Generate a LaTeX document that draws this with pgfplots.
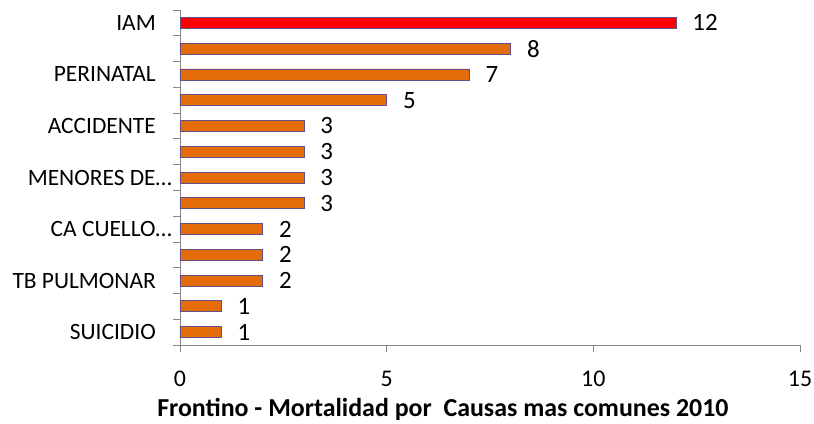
\documentclass[border=0pt]{standalone}
\usepackage{fontspec}
\setmainfont{Carlito}
\usepackage{pgfplots}
\pgfplotsset{compat=1.18}
\definecolor{barorange}{RGB}{228,108,10}
\definecolor{barred}{RGB}{255,0,0}
\definecolor{baredge}{RGB}{100,80,135}
\definecolor{axgray}{RGB}{134,134,134}
\newcommand{\gap}{\kern16bp\relax}
\begin{document}
\begin{tikzpicture}[x=1bp,y=1bp]
\begin{axis}[
  at={(0,0)}, anchor=south west,
  scale only axis, width=620bp, height=335bp,
  xbar, bar width=11bp,
  xmin=0, xmax=15, ymin=-0.5, ymax=12.5,
  axis x line*=bottom, axis y line*=left,
  axis line style={axgray, line width=0.8bp},
  xtick={0,5,10,15},
  ytick={0,2,...,12},
  yticklabels={SUICIDIO\gap,TB PULMONAR\gap,CA CUELLO…,MENORES DE…,ACCIDENTE\gap,PERINATAL\gap,IAM\gap},
  minor ytick={-0.5,0.5,...,12.5},
  tick align=outside, tick pos=left,
  major tick length=7bp, minor tick length=7bp,
  major y tick style={draw=none},
  minor y tick style={axgray, line width=0.8bp},
  major x tick style={axgray, line width=0.8bp},
  /pgf/number format/assume math mode=true,
  yticklabel style={font=\fontsize{23.5}{27}\selectfont, anchor=east, inner sep=0pt, xshift=-1bp},
  xticklabel style={font=\fontsize{24}{28}\selectfont, anchor=north, inner sep=0pt, yshift=-19bp},
  xlabel={\bfseries Frontino - Mortalidad por\ \ Causas mas comunes 2010},
  xlabel style={font=\fontsize{26}{30}\selectfont, at={(axis description cs:0.424,0)}, anchor=base, inner sep=0pt, yshift=-71bp},
  point meta=x,
  nodes near coords,
  nodes near coords style={font=\fontsize{25}{29}\selectfont, anchor=west, inner sep=0pt, xshift=16bp, text=black},
  every node near coord/.append style={/pgf/number format/assume math mode=true},
]
\addplot[bar shift=0pt, fill=barorange, draw=baredge, line width=0.8bp]
  coordinates {(1,0) (1,1) (2,2) (2,3) (2,4) (3,5) (3,6) (3,7) (3,8) (5,9) (7,10) (8,11)};
\addplot[bar shift=0pt, fill=barred, draw=baredge, line width=0.8bp]
  coordinates {(12,12)};
\end{axis}
\pgfresetboundingbox
\path[use as bounding box] (-180,-78) rectangle (634,345);
\end{tikzpicture}
\end{document}
